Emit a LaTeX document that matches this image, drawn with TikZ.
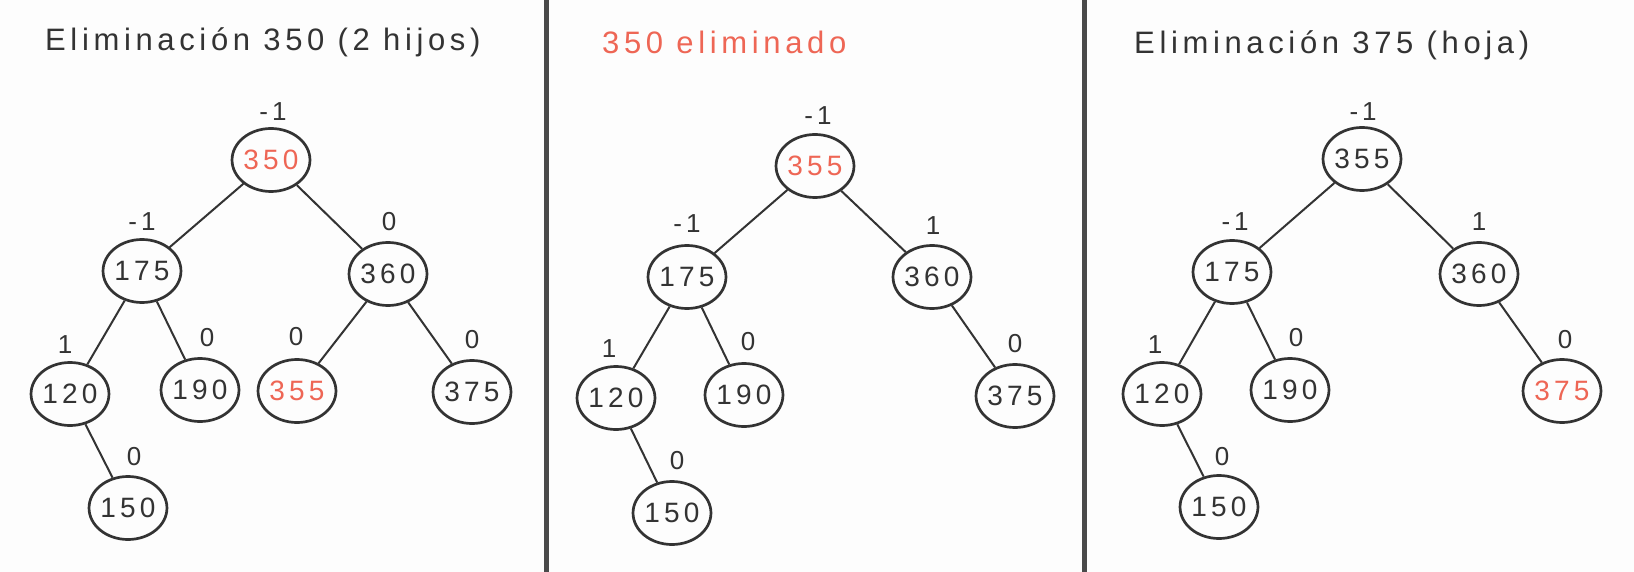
\documentclass[tikz,border=0pt]{standalone}
\usepackage{fontspec}
\setmainfont{Liberation Sans}
\newfontfamily\hand[LetterSpace=15]{Liberation Sans}
\usetikzlibrary{shapes.geometric}
\definecolor{ink}{HTML}{333333}
\definecolor{redink}{HTML}{EE6655}
\definecolor{paper}{HTML}{FDFDFD}
\definecolor{divider}{HTML}{4A4A4A}
\tikzset{
  tnode/.style={ellipse, draw=ink, line width=2.7pt, minimum width=75pt, minimum height=63pt, inner sep=0pt,
    font=\hand\fontsize{28}{30}\selectfont, text=ink},
  rednode/.style={tnode, text=redink},
  bal/.style={font=\hand\fontsize{26}{28}\selectfont, text=ink, inner sep=0pt},
  ttl/.style={font=\hand\fontsize{31}{33}\selectfont, text=ink, anchor=west, inner sep=0pt},
  edge/.style={draw=ink, line width=2pt},
  sep/.style={draw=divider, line width=5pt}
}
\begin{document}
\begin{tikzpicture}[x=1pt,y=-1pt]
\fill[paper] (0,0) rectangle (1634,572);
\useasboundingbox (0,0) rectangle (1634,572);
\draw[sep] (546,0) -- (546,572);
\draw[sep] (1084,0) -- (1084,572);

% Panel 1
\node[ttl] (t1) at (45,42) {Eliminación 350 (2 hijos)};
\node[rednode] (a350) at (271,160) {350};
\node[tnode] (a175) at (142,271) {175};
\node[tnode] (a360) at (388,274) {360};
\node[tnode] (a120) at (70,394) {120};
\node[tnode] (a190) at (200,390) {190};
\node[rednode] (a355) at (297,391) {355};
\node[tnode] (a375) at (472,392) {375};
\node[tnode] (a150) at (128,508) {150};
\node[bal] (b350) at (273,112) {-1};
\node[bal] (b175) at (142,222) {-1};
\node[bal] (b360) at (389,222) {0};
\node[bal] (b120) at (65,345) {1};
\node[bal] (b190) at (207,338) {0};
\node[bal] (b355) at (296,337) {0};
\node[bal] (b375) at (472,340) {0};
\node[bal] (b150) at (134,457) {0};
\draw[edge] (a350) -- (a175);
\draw[edge] (a350) -- (a360);
\draw[edge] (a175) -- (a120);
\draw[edge] (a175) -- (a190);
\draw[edge] (a360) -- (a355);
\draw[edge] (a360) -- (a375);
\draw[edge] (a120) -- (a150);

% Panel 2
\node[ttl, text=redink] (t2) at (602,42) {350 eliminado};
\node[rednode] (c355) at (815,166) {355};
\node[tnode] (c175) at (687,277) {175};
\node[tnode] (c360) at (932,277) {360};
\node[tnode] (c120) at (616,398) {120};
\node[tnode] (c190) at (744,395) {190};
\node[tnode] (c375) at (1015,396) {375};
\node[tnode] (c150) at (672,513) {150};
\node[bal] (d355) at (818,116) {-1};
\node[bal] (d175) at (687,224) {-1};
\node[bal] (d360) at (933,226) {1};
\node[bal] (d120) at (609,349) {1};
\node[bal] (d190) at (748,342) {0};
\node[bal] (d375) at (1015,344) {0};
\node[bal] (d150) at (677,461) {0};
\draw[edge] (c355) -- (c175);
\draw[edge] (c355) -- (c360);
\draw[edge] (c175) -- (c120);
\draw[edge] (c175) -- (c190);
\draw[edge] (c360) -- (c375);
\draw[edge] (c120) -- (c150);

% Panel 3
\node[ttl] (t3) at (1134,45) {Eliminación 375 (hoja)};
\node[tnode] (e355) at (1362,159) {355};
\node[tnode] (e175) at (1232,272) {175};
\node[tnode] (e360) at (1479,274) {360};
\node[tnode] (e120) at (1162,394) {120};
\node[tnode] (e190) at (1290,390) {190};
\node[rednode] (e375) at (1562,391) {375};
\node[tnode] (e150) at (1219,507) {150};
\node[bal] (f355) at (1363,112) {-1};
\node[bal] (f175) at (1235,222) {-1};
\node[bal] (f360) at (1479,222) {1};
\node[bal] (f120) at (1155,345) {1};
\node[bal] (f190) at (1296,338) {0};
\node[bal] (f375) at (1565,340) {0};
\node[bal] (f150) at (1222,457) {0};
\draw[edge] (e355) -- (e175);
\draw[edge] (e355) -- (e360);
\draw[edge] (e175) -- (e120);
\draw[edge] (e175) -- (e190);
\draw[edge] (e360) -- (e375);
\draw[edge] (e120) -- (e150);
\end{tikzpicture}
\end{document}
